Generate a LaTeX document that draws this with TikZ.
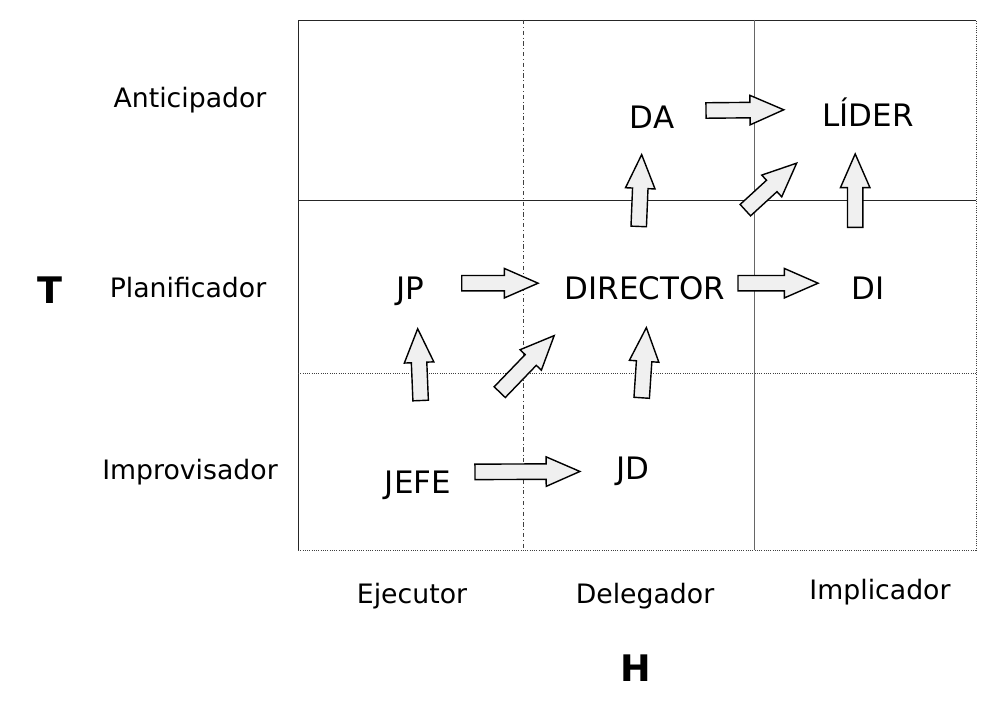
\documentclass[tikz,border=0pt]{standalone}
\usepackage{fontspec}
\setmainfont{DejaVu Sans}
\usepackage{tikz}
\usetikzlibrary{calc}
\tikzset{
  cell/.style={font=\fontsize{22}{26}\selectfont,text height=16pt,text depth=0pt},
  rowlabel/.style={font=\fontsize{19}{23}\selectfont},
  axisname/.style={font=\bfseries\fontsize{26}{30}\selectfont},
  gridline/.style={line width=0.6pt,draw=black!85},
  gridfaint/.style={line width=0.6pt,draw=black!75,densely dotted},
  fatarrow/.style={draw=black,line width=1pt,fill=black!6,line join=miter,
    to path={let \p1=(\tikztostart), \p2=(\tikztotarget),
      \n1={atan2(\y2-\y1,\x2-\x1)}, \n2={veclen(\x2-\x1,\y2-\y1)-24pt} in
      ($(\p1)+(\n1+90:5.5pt)$) -- ($(\p1)+(\n1:\n2)+(\n1+90:5.5pt)$)
      -- ($(\p1)+(\n1:\n2)+(\n1+90:10.5pt)$) -- (\p2)
      -- ($(\p1)+(\n1:\n2)+(\n1-90:10.5pt)$) -- ($(\p1)+(\n1:\n2)+(\n1-90:5.5pt)$)
      -- ($(\p1)+(\n1-90:5.5pt)$) -- cycle}}
}

\begin{document}
\begin{tikzpicture}[x=0.025cm,y=-0.025cm]
\useasboundingbox (0,0) rectangle (987,715);
% grid
\draw[gridline] (298,550) -- (298,20) -- (976,20);
\draw[gridline] (298,200) -- (976,200);
\draw[gridline,draw=black!60] (754,20) -- (754,550);
\draw[gridfaint,dash dot] (523,20) -- (523,550);
\draw[gridfaint] (298,373) -- (976,373);
\draw[gridfaint] (298,550) -- (976,550) -- (976,20);
% axes
\node[axisname] (t) at (50,290) {T};
\node[rowlabel] (ant) at (190,100) {Anticipador};
\node[rowlabel] (pla) at (188,288) {Planificador};
\node[rowlabel] (imp) at (190,472) {Improvisador};
\node[rowlabel] (eje) at (412,596) {Ejecutor};
\node[rowlabel] (del) at (645,596) {Delegador};
\node[rowlabel] (impl) at (880,592) {Implicador};
\node[axisname] (h) at (636,668) {H};
% cells
\node[cell] (da) at (652,117) {DA};
\node[cell] (lider) at (868,115) {LÍDER};
\node[cell] (jp) at (410,288) {JP};
\node[cell] (director) at (645,288) {DIRECTOR};
\node[cell] (di) at (868,288) {DI};
\node[cell] (jefe) at (418,482) {JEFE};
\node[cell] (jd) at (633,468) {JD};
% arrows
\draw[fatarrow] ($(da)!.25!(lider)+(0,0.15cm)$) to ($(da)!.61!(lider)+(0,0.15cm)$);
\draw[fatarrow] ($(director)!.36!(da)+(-0.22cm,0)$) to ($(director)!.78!(da)+(-0.22cm,0)$);
\draw[fatarrow] ($(director)!.45!(lider)$) to ($(director)!.68!(lider)+(0,0.18cm)$);
\draw[fatarrow] ($(di)!.35!(lider)+(-0.32cm,0)$) to ($(di)!.775!(lider)+(-0.32cm,0)$);
\draw[fatarrow] ($(jp)!.22!(director)+(0,0.12cm)$) to ($(jp)!.545!(director)+(0,0.12cm)$);
\draw[fatarrow] ($(director)!.417!(di)+(0,0.12cm)$) to ($(director)!.776!(di)+(0,0.12cm)$);
\draw[fatarrow] ($(jefe)!.42!(jp)+(0.15cm,0)$) to ($(jefe)!.79!(jp)+(0.15cm,0)$);
\draw[fatarrow] ($(jefe)!.36!(director)+(0,0.5cm)$) to ($(jefe)!.6!(director)+(0,0.75cm)$);
\draw[fatarrow] ($(jd)!.39!(director)+(0.1cm,0)$) to ($(jd)!.78!(director)+(0.1cm,0)$);
\draw[fatarrow] ($(jefe)!.265!(jd)+(0,0.16cm)$) to ($(jefe)!.753!(jd)$);
\end{tikzpicture}
\end{document}
